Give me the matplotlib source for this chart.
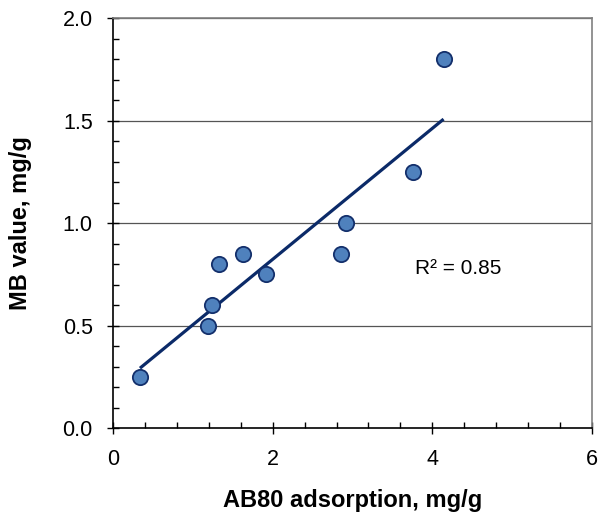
import numpy as np
import matplotlib.pyplot as plt

plt.rcParams["font.family"] = ["Liberation Sans", "DejaVu Sans"]

# AB80 adsorption vs MB value (mg/g)
ab80 = [0.34, 1.19, 1.24, 1.33, 1.63, 1.92, 2.85, 2.92, 3.76, 4.14]
mb_value = [0.25, 0.50, 0.60, 0.80, 0.85, 0.75, 0.85, 1.00, 1.25, 1.80]
r2_label = "R² = 0.85"


def main():
    """main function"""
    x = np.array(ab80)
    y = np.array(mb_value)

    fig = plt.figure(figsize=(6.0, 5.18), dpi=100)
    ax = fig.add_axes([0.188, 0.1737, 0.799, 0.7913])

    # horizontal gridlines at major y ticks
    for gy in [0.5, 1.0, 1.5, 2.0]:
        ax.axhline(gy, color="#555555", lw=0.9, zorder=1)

    # linear trendline over the data range
    slope, intercept = np.polyfit(x, y, 1)
    xs = np.array([x.min(), x.max()])
    ax.plot(xs, slope * xs + intercept, color="#0B2A68", lw=2.3, zorder=2,
            solid_capstyle="butt")

    ax.plot(x, y, "o", ms=11, mfc="#4F81BD", mec="#132F6B", mew=1.3,
            zorder=3, clip_on=False)

    ax.text(3.78, 0.78, r2_label, fontsize=15, ha="left", va="center")

    ax.set_xlim(0, 6)
    ax.set_ylim(0, 2.0)
    ax.set_xticks([0, 2, 4, 6])
    ax.set_yticks([0.0, 0.5, 1.0, 1.5, 2.0])
    ax.set_yticklabels(["0.0", "0.5", "1.0", "1.5", "2.0"])
    ax.set_xticks(np.arange(0, 6.01, 0.4), minor=True)
    ax.set_yticks(np.arange(0, 2.001, 0.1), minor=True)
    ax.tick_params(which="major", direction="inout", length=9, width=1,
                   labelsize=15.5, color="black")
    ax.tick_params(which="minor", direction="in", length=4, width=1,
                   color="black")
    ax.tick_params(axis="x", pad=10.5)
    ax.tick_params(axis="y", pad=10)

    for side in ["left", "bottom"]:
        ax.spines[side].set_color("black")
        ax.spines[side].set_linewidth(1.2)
    for side in ["top", "right"]:
        ax.spines[side].set_color("#808080")
        ax.spines[side].set_linewidth(1.2)

    ax.set_xlabel("AB80 adsorption, mg/g", fontsize=17, fontweight="bold",
                  va="center")
    ax.set_ylabel("MB value, mg/g", fontsize=17, fontweight="bold",
                  va="center")
    ax.xaxis.set_label_coords(0.5, -0.1756)
    ax.yaxis.set_label_coords(-0.192, 0.5)

    fig.savefig("out.png", dpi=100)


if __name__ == "__main__":
    main()
